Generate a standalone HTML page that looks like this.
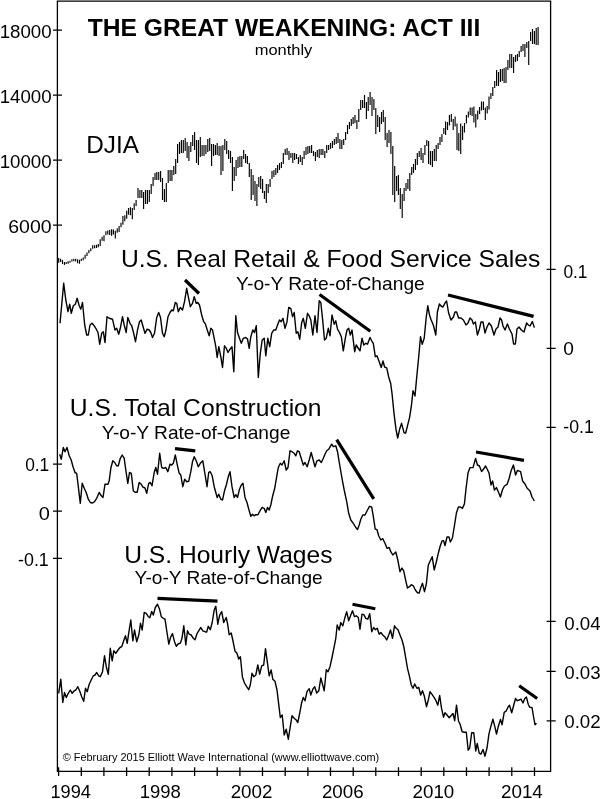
<!DOCTYPE html>
<html><head><meta charset="utf-8"><title>The Great Weakening: Act III</title>
<style>
html,body{margin:0;padding:0;background:#fff;}
body{width:600px;height:799px;overflow:hidden;font-family:"Liberation Sans",sans-serif;color:#000;}
svg{display:block;position:absolute;left:0;top:0;filter:grayscale(1);}
text{white-space:pre;}
</style></head><body>
<svg width="600" height="799" viewBox="0 0 600 799">
<g fill="none" stroke="#000" stroke-width="1.3">
<path d="M57.4 771.3V1.2H550.6V771.3Z"/>
<path d="M53 30.2H62 M53 95.2H62 M53 160.2H62 M53 225.2H62 M53 464.1H62 M53 511.2H62 M53 558.3H62"/>
<path d="M546.6 269.4H555.7 M546.6 348.4H555.7 M546.6 427.4H555.7 M546.6 621.4H555.7 M546.6 671.3H555.7 M546.6 720.9H555.7"/>
<path d="M58.6 767.2V776 M81.3 767.2V776 M103.9 767.2V776 M126.6 767.2V776 M149.2 767.2V776 M171.9 767.2V776 M194.6 767.2V776 M217.2 767.2V776 M239.9 767.2V776 M262.5 767.2V776 M285.2 767.2V776 M307.9 767.2V776 M330.5 767.2V776 M353.2 767.2V776 M375.8 767.2V776 M398.5 767.2V776 M421.2 767.2V776 M443.8 767.2V776 M466.5 767.2V776 M489.1 767.2V776 M511.8 767.2V776 M534.5 767.2V776"/>
</g>
<path d="M58.7 258V262.7 M60.6 258.7V262 M62.5 260V264 M64.4 262V265 M66.2 262V264 M68.1 261.3V263.7 M70 260.7V262.7 M71.9 259.3V261.6 M73.8 258.7V261.3 M75.7 258.7V261.6 M77.6 259.3V263.3 M79.5 259.7V263.7 M81.3 258.7V261 M83.2 257.6V260.3 M85.1 254.7V258.7 M87 252.4V256 M88.9 250V253.3 M90.8 248.3V251.3 M92.7 245.3V248.7 M94.6 245.3V248.3 M96.5 244.7V248 M98.3 244V247.3 M100.2 239.3V246 M102.1 236.7V240.7 M104 235.3V241.3 M105.9 231.3V235.3 M107.8 230.4V234.4 M109.7 230V235 M111.6 229.3V235.7 M113.4 229.6V234.4 M115.3 230.7V238.4 M117.2 228.3V232.7 M119.1 226V232 M121 222.7V227.3 M122.9 216V224.7 M124.8 215.3V221.3 M126.7 210.7V218.7 M128.5 208V214.7 M130.4 207.3V215.3 M132.3 208V219.3 M134.2 203.3V210 M136.1 200V206 M138 188V198 M139.9 190V198 M141.8 190V198 M143.6 192V209 M145.5 190V204 M147.4 190V204 M149.3 190V202 M151.2 184V194 M153.1 177V186 M155 173V180 M156.8 172V180 M158.7 172V180 M160.6 171V182 M162.5 178V200 M164.4 189V202 M166.3 183V202 M168.2 170V183 M170.1 170V181 M171.9 170V181 M173.8 166V175 M175.7 159V174 M177.6 144V163 M179.5 142V154 M181.4 140V153 M183.3 140V153 M185.2 138V151 M187.1 142V158 M188.9 146V161 M190.8 142V152 M192.7 135V146 M194.6 132V150 M196.5 140V163 M198.4 140V165 M200.3 137V157 M202.1 145V156 M204 145V156 M205.9 145V154 M207.8 139V152 M209.7 138V151 M211.6 144V166 M213.5 144V156 M215.4 145V155 M217.2 143V155 M219.1 146V156 M221 146V175 M222.9 145V171 M224.8 139V150 M226.7 141V154 M228.6 150V159 M230.5 151V163 M232.4 157V191 M234.2 167V181 M236.1 160V176 M238 157V168 M239.9 156V167 M241.8 156V167 M243.7 150V159 M245.6 154V163 M247.4 156V164 M249.3 163V177 M251.2 169V200 M253.1 175V195 M255 181V201 M256.9 184V206 M258.8 177V187 M260.7 176V189 M262.6 179V193 M264.4 191V199 M266.3 184V203 M268.2 184V193 M270.1 179V187 M272 171V179 M273.9 170V177 M275.8 168V175 M277.6 165V173 M279.5 163V170 M281.4 162V168 M283.3 153V164 M285.2 149V155 M287.1 148V155 M289 151V160 M290.9 153V158 M292.8 153V163 M294.6 153V160 M296.5 154V159 M298.4 157V164 M300.3 155V162 M302.2 157V165 M304.1 151V159 M306 147V155 M307.9 146V154 M309.7 146V153 M311.6 145V153 M313.5 151V156 M315.4 152V161 M317.3 150V157 M319.2 149V158 M321.1 149V155 M322.9 149V155 M324.8 151V158 M326.7 145V153 M328.6 145V150 M330.5 143V149 M332.4 141V148 M334.3 139V145 M336.2 137V144 M338 133V143 M339.9 139V149 M341.8 140V149 M343.7 139V145 M345.6 132V140 M347.5 125V134 M349.4 122V129 M351.3 119V126 M353.1 117V124 M355 115V123 M356.9 120V129 M358.8 109V122 M360.7 100V110 M362.6 100V108 M364.5 95V108 M366.4 102V119 M368.2 97V111 M370.1 92V105 M372 97V116 M373.9 99V110 M375.8 108V134 M377.7 115V127 M379.6 117V132 M381.5 112V124 M383.3 110V122 M385.2 117V140 M387.1 133V147 M389 130V143 M390.9 132V154 M392.8 146V195 M394.7 166V202 M396.6 176V191 M398.4 175V195 M400.3 188V209 M402.2 194V218 M404.1 188V201 M406 183V191 M407.9 179V189 M409.8 173V191 M411.7 167V175 M413.5 164V173 M415.4 159V170 M417.3 153V165 M419.2 151V157 M421.1 148V160 M423 153V163 M424.9 145V155 M426.8 140V146 M428.6 141V164 M430.5 151V165 M432.4 151V167 M434.3 149V161 M436.2 145V161 M438.1 143V149 M440 137V145 M441.9 134V142 M443.8 128V134 M445.6 121.5V135 M447.5 122V130 M449.4 115V125.5 M451.3 114V122 M453.2 119V130 M455.1 116.5V126.5 M457 123.5V150 M458.8 133V151 M460.7 123.5V154 M462.6 126V140 M464.5 123V132.5 M466.4 115V123.5 M468.3 111.5V117.5 M470.2 107.5V115 M472.1 107.5V116 M473.9 106.5V122.5 M475.8 114V127.5 M477.7 110.5V119.5 M479.6 107V114 M481.5 101.5V110.5 M483.4 101.5V110 M485.3 107.5V120 M487.2 106V113.5 M489 96.5V109.5 M490.9 93V99 M492.8 87V96 M494.7 81V88 M496.6 70V86 M498.5 72V86 M500.4 69V82 M502.3 69V81 M504.1 68V83 M506 67V83 M507.9 60V70 M509.8 54V68 M511.7 54V68 M513.6 57V73 M515.5 55V62 M517.4 54V61 M519.2 51V57 M521.1 46V52 M523 44V51 M524.9 44V57 M526.8 42V48 M528.7 41V65 M530.6 32V41 M532.5 29V44 M534.4 31V44 M536.2 28V45 M538.1 27V45" fill="none" stroke="#000" stroke-width="1.15"/>
<g fill="none" stroke="#000" stroke-width="1.4" stroke-linejoin="round">
<polyline points="60,323.3 63.7,283.3 65.8,300 68,311.7 69.7,304.2 71.3,313.3 73.3,305.8 75.3,304.2 77.2,298.3 79.2,305.8 80.8,309.2 82.5,302.5 84.7,325 86.7,335 88.3,335 90,325 92,323.3 94.2,325.8 96.3,329.2 98,332.5 99.7,344.2 101.7,333.3 103.3,331.7 105,342.5 107,316.7 109.2,318.3 112.5,319.2 115,330 116.7,328.3 118.7,334.2 120.3,328.3 122.5,316.7 124.2,325 126.2,332.5 127.8,317.5 130,323.3 131.7,325.8 133.3,331.7 135.5,341.7 137.5,330 139.5,321.7 141.2,320 143.3,327.5 145,333.3 147.2,329.2 149.2,330 150.8,332.5 152.5,337.5 154.5,333.3 156.7,317.5 158.7,312.5 160.5,317.5 162.5,333.3 164.2,336.7 165.8,330.8 168,316.7 170,312.5 171.7,310 173.3,310.8 175.3,302.5 176.7,303.3 178.3,311.7 180.3,307.5 182.5,310 184.5,301.7 186.7,288.3 188.3,296.7 190.3,306.7 192.5,303.3 194.2,296.7 196.2,303.3 197.8,302.5 199.5,305 201.7,315 203.7,321.7 205.5,324.2 207.5,330.8 209.2,335.8 210.8,328.3 212.5,330 214.2,338.3 215.8,346.7 217.2,357.5 218.8,346.7 220.8,356.7 222.5,367.5 224.5,345.8 226.3,348.3 228,352.5 230,349.2 232,346.7 233.8,371.7 235.8,315.8 237.5,332.5 239.5,338.3 241.3,343.3 243.3,338.3 245.8,337.5 247.5,339 249.2,348.3 250.8,336.7 252.8,330 254.5,332.5 256.3,325.8 258.3,377.5 260.3,353.3 262.2,340 264.2,338.3 265.8,355.8 267.8,338.3 269.7,346.7 271.7,333.3 273.7,330 275.8,330 277.8,324.2 279.5,320 281.2,321.7 283,318.3 285,328.3 287,321.7 288.7,307.5 290.8,308.3 292.5,316.7 294.2,312.5 296.2,333.3 297.8,331.7 299.7,339.2 301.7,322.5 303.3,318.3 305.3,328.3 307.5,313.3 309.2,315.8 310.8,320 312.8,335 315,315.8 317,332.5 319.2,300.8 320.8,302.5 322.5,318.3 324.5,340 326.2,338.3 328.3,328.3 330,335.8 332,315 334.2,324.2 335.8,320.8 337.5,329.2 339.5,332.5 341.4,337 343.3,350.8 345.3,338.3 347,330 348.7,328.3 350.3,335 352,330 354.7,351.7 356.2,345 357.8,347.5 360,350.8 362,338.3 363.8,345 365.8,343.3 367.5,344.2 370,337.5 371.7,340.8 373.3,343.3 375.3,356.7 377,355.8 379.2,361.7 381.2,367.5 383,361 384.6,367 386.7,367.8 388.7,377 390.7,383.5 392,393.3 394,413.3 396,429.3 397.7,438 399.6,429.3 401.6,423.3 404,432.7 405.7,433 407.6,425.3 409.6,417.3 411.3,406.7 413,390.7 415,396 416.7,377.3 418.7,357 420.5,336.7 422.2,344.2 424.2,338.3 426.2,317.5 427.8,305.8 429.5,315 431.2,320 433.3,325 435.8,335 437.4,312 439.4,304 441,306 443,307 445,303 446.6,301 448.6,313 451,320 453.4,317 455,312 456.6,312 458.6,318 461,318 463.4,320 466,325 468,323 470,318 472,320 473.4,324 475.4,322 477.4,335 479.4,329 481,322 483,322 485,333 487,327 489,323 491.4,326 494,335 496,329 498,327 500,318 501.6,320 503,326 505,330 507.4,324 509.4,329 512,334 513.6,344 515.4,344 517,329 519,327 521.4,330 524,332 526.6,323 528.4,325 530,326 532.4,321.6 534.4,327.6"/>
<polyline points="59.7,454.2 61.3,459.2 63.3,447.5 65,451.7 67,447.5 69.2,455.8 71.2,460 73,466.7 75,472.5 76.7,473.3 78.3,486.7 80.3,503.3 82.2,483.3 84.2,488.3 86.2,492.5 88.3,499.2 90.3,502.5 92.5,503 94.5,501.7 96.7,498.3 99.2,492.5 101.3,495.8 103,497.5 105,484.2 108,484.2 109.2,480.8 110.8,468.3 112.8,460.8 114.7,462.5 116.7,465.8 118.3,465.8 120.3,458.3 122.2,455 124.2,458.3 125.8,470 127.8,483.3 129.5,472.5 131.3,473.3 133.3,490.8 135,492.2 137.2,492.2 139.2,482.5 141.2,484.2 142.8,487 145,488 146.7,493.3 148.7,483.3 150.3,482.5 152,485.8 154.2,472.5 155.8,467.5 157.5,474.2 159.7,453.3 161.7,467.5 163.7,468.3 165.8,467.5 167.8,471.7 170,464.2 171.7,465 173.3,463.3 175.3,455 177.5,465.8 179.2,473.3 180.8,475 182.8,486.7 184.7,479.2 186.7,481.7 188.7,481.3 190.8,471.7 192.5,461.7 194.2,456.7 196.2,460.8 198.3,466.7 200.3,463.3 202.8,460.8 205,474.2 207,486.7 208.7,472.5 210.3,471.7 212.2,475.8 214.2,486.7 215.8,492.5 217.2,497.5 218.8,494.2 220.8,499.2 222.5,500 224.5,490.8 226.3,485 228.3,476.7 230,471.7 232,486.7 234.2,497.5 235.8,494.7 237.5,497.5 239.5,489.2 241.3,485 243,483.3 245,497.5 247,502.5 249.2,510.8 250.8,516.3 252.5,514.2 254.2,515.8 255.8,514.7 258,514.7 260,510.8 262,507.5 264.2,508.3 265.8,512.5 267.5,507.5 269.2,510 270.8,505 272.5,496.7 274.7,488.3 276.7,476.7 278.3,467.5 280.3,463.3 282,465 284.2,460.8 286.2,470 288,467.5 290,450.8 292,451.7 294.2,453.3 295.8,455.8 297.5,450.8 299.2,451.7 301.2,458.3 303.3,465 305,462.5 307.2,466.7 309.2,460 311.2,452.5 313,459.2 315,466.7 317,460.8 319.2,460 321.3,462.5 323.3,458.3 325,454.2 326.7,450.8 328.8,449.2 331.7,444.2 333.3,446.7 335.8,445.8 337.5,451.7 339.7,465 342,478.3 344.2,490 346.7,501.7 348.7,513.3 350.8,520 353.3,523.3 355.8,527.5 357.5,529.5 359.2,525 360.8,519.2 362.8,515 365,515 367.5,510 369.5,506.3 371.7,507 373.3,516.3 375.2,529.2 377,529.7 378.7,535.8 380.8,540 382.8,538.7 385,543.3 387,548.3 389.2,547.5 390.8,551.7 392.8,555 395.8,552 397.8,560 400,571.7 402,568 403.7,570.8 405.8,580.8 407.5,588 409.5,586.7 411.3,584.7 413.3,585.8 415.3,590 417.5,592.8 419.2,593 420.8,587.5 422.5,583.3 424.5,591.7 426.3,584.2 428.3,565 430.3,560.8 432.2,556.7 434.2,570 436.2,562.5 438.3,553.3 440.3,545.8 442,541 443.6,540.6 445,545.5 447,537 449,537 450.4,542 452.4,538 454.4,526 456.4,513 458.4,507 460.4,507 462.4,508.4 464.4,504 466,489 468,473 470,467.6 473,467.6 475.6,458.4 477.4,465 479.4,466 481.6,471.6 483.6,469 485.6,466 487.6,470 489,473 491,485 492.6,481 494.4,490 496.4,487.6 498.4,492 500.4,497 502.4,490 504.4,486 507,484.4 509,479 511,471 513.4,465 515.6,475 517.4,470.4 520.6,471.6 522.6,481 525,484 527,488 530,491 532,497 534.4,501"/>
<polyline points="58.7,693.3 60.8,679.2 62.8,702.5 64.5,692.5 66.3,697.5 68.3,693.3 70.3,690 72.2,693.3 74.2,690.8 75.8,690 77.8,686.7 80,691.7 81.7,696.7 83.7,701.3 85.5,688.3 87.2,691.7 89.2,684.2 91.2,680 93.3,675.8 95,675 96.7,672.5 98.7,675.8 100.3,676.7 102.5,671.7 104.5,655.8 106.3,666.7 108.3,674.2 110.3,648.3 112.2,660.8 113.8,650.8 115.8,653.3 118,650 120,647.5 121.7,646.7 123.7,640.8 125.5,635.8 127.2,643.3 129.2,630 130.8,620 132.8,640.8 134.5,630 136.7,641.7 138.8,635 140.5,623.3 142.2,630 144.2,612.5 146.2,613.3 148.3,616.7 149.8,617.8 151.7,611.5 153.3,615 155.3,607.5 157.5,604.2 159.5,609.2 161.3,616.7 163.3,618.3 165,619.2 167,632.5 168.8,644.2 170.5,637.5 172.5,633.7 174.5,641.7 176.3,646.3 178.3,643.7 180.3,643.3 182,638.3 183.8,625.8 185.8,645 187.5,630.8 189.2,634.2 191.2,635 193.3,638.3 195,639.7 197,633.7 198.7,630.8 200.8,627.5 202.8,630.8 205,631.7 206.7,632 208.3,626.3 210.3,629.7 212.2,622.5 214.2,610 215.8,606.3 217.8,624.2 219.7,615 221.7,611.7 223.7,622.5 226.2,617.5 227.5,623.3 229.2,634.7 231.2,633 232.8,640 235,651.2 237,653.3 238.7,659 240.4,656.7 242.4,677 244.5,683 246.7,686.7 248.7,689.7 250.3,685 252,673.3 253.8,676.7 255.8,675 257.8,665 259.7,674.2 261.7,665.8 263.7,665 265.5,648.7 267.5,663.3 269.2,675.8 271.2,670 272.8,679.2 275,681.3 277,690 278.7,704.2 280.3,717.5 282.2,715 284.2,735 286.2,729.2 288.3,739.2 290,728.3 292,715.8 294.2,718.3 296.2,720 297.8,722.5 300,711.7 301.7,702.5 303.3,697.5 305,700.8 307,691.7 309.2,688.7 310.8,695 312.8,689.2 314.7,686.7 316.7,693 318.8,690.8 320.8,678 322.5,684.2 324.2,690.8 326.3,669.7 328,671.7 330,666.7 332,657.5 334.2,646.7 335.8,638.3 337.2,625 339.2,630 340.8,622.5 342.8,625.8 344.7,618.3 346.7,611.7 348.7,620.8 350.5,615.8 352.5,610.8 354.5,616.7 356.3,615.8 358.3,617.5 360,629.2 362,614.2 363.8,614.7 365.8,618.3 367.8,619.2 369.7,613.7 371.7,631.7 373.7,627.5 375.3,629.7 377.2,628.3 379.2,634.2 380.8,632.5 382.8,635 384.7,636.7 386.7,640 388.7,635 390.5,630 392.5,638.3 394.5,625.8 396.2,628.3 398,629.7 400,635 402,640 403.8,646.7 405.5,656.7 407.5,668.3 409.5,676.7 411.3,685 413,688.3 414.7,684 416.9,688.3 418.7,687.3 420.7,695 422.5,690.7 424.3,696 426.5,706.7 428.5,699.2 430,691.7 432.2,694.7 434.2,697.7 436,700.7 437.8,705.2 439.7,695.5 441.5,708.2 443.5,717.2 445,712.7 447,715 449.2,717.7 451,715.7 453,713.5 454.7,720.7 456.5,705.2 458.5,721 460,724 462.2,731.8 464.2,732.2 466.3,732.2 468.2,750.2 469.7,748 471.7,732.7 473.8,732.7 475.7,751 477.2,743.5 479.2,753.2 481,754 483,749.5 485,756.2 487,748 489,733.7 490.7,727 492.9,719.2 494.7,726.2 496.5,734 498.2,726.8 500.5,719.5 502.1,724.7 504.2,712.4 506,711.2 508,707.2 509.5,705.2 511.7,712.7 513.5,706 515.5,698.5 517.3,700.7 519.2,700 521,699.2 523,703 524.8,698.5 526.4,697 528.2,704.2 529.7,707.2 532,707.5 533.5,716.5 535,724.7 536.5,723.2"/>
</g>
<g fill="none" stroke="#000" stroke-width="3.2">
<path d="M185 280L199 293.5"/>
<path d="M319.5 294.5L370.3 331.3"/>
<path d="M448 295L533.6 316.4"/>
<path d="M175 448.7L195.3 450.8"/>
<path d="M336.7 439.7L373.7 498.8"/>
<path d="M476 452L524 460.4"/>
<path d="M157.5 598.3L217.5 601.2"/>
<path d="M352.5 604.2L375.3 608.7"/>
<path d="M519.2 685.7L537.2 698.5"/>
</g>
<g font-family="Liberation Sans, sans-serif" fill="#000">
<text x="87.74" y="35.8" font-size="23.8" font-weight="bold" textLength="392.49" lengthAdjust="spacingAndGlyphs">THE GREAT WEAKENING: ACT III</text>
<text x="254.67" y="55.2" font-size="15.3" textLength="57.69" lengthAdjust="spacingAndGlyphs">monthly</text>
<text x="86.26" y="152.6" font-size="23.8" textLength="52.72" lengthAdjust="spacingAndGlyphs">DJIA</text>
<text x="120.95" y="267" font-size="24" textLength="419.31" lengthAdjust="spacingAndGlyphs">U.S. Real Retail &amp; Food Service Sales</text>
<text x="235.98" y="289.5" font-size="18.4" textLength="188.75" lengthAdjust="spacingAndGlyphs">Y-o-Y Rate-of-Change</text>
<text x="69.8" y="416.4" font-size="24" textLength="251.76" lengthAdjust="spacingAndGlyphs">U.S. Total Construction</text>
<text x="101.88" y="438.6" font-size="18.4" textLength="188.45" lengthAdjust="spacingAndGlyphs">Y-o-Y Rate-of-Change</text>
<text x="124.21" y="562.6" font-size="24" textLength="208.34" lengthAdjust="spacingAndGlyphs">U.S. Hourly Wages</text>
<text x="134.48" y="584.4" font-size="18.4" textLength="188.25" lengthAdjust="spacingAndGlyphs">Y-o-Y Rate-of-Change</text>
<text x="62.65" y="761.4" font-size="10.8" textLength="316.61" lengthAdjust="spacingAndGlyphs">© February 2015 Elliott Wave International (www.elliottwave.com)</text>
<text x="-0.35" y="37.75" font-size="18.1" textLength="52.01" lengthAdjust="spacingAndGlyphs">18000</text>
<text x="-0.35" y="102.75" font-size="18.1" textLength="52.01" lengthAdjust="spacingAndGlyphs">14000</text>
<text x="-0.35" y="167.75" font-size="18.1" textLength="52.01" lengthAdjust="spacingAndGlyphs">10000</text>
<text x="8.22" y="232.75" font-size="18.1" textLength="43.4" lengthAdjust="spacingAndGlyphs">6000</text>
<text x="25.18" y="471.2" font-size="18.1" textLength="24.09" lengthAdjust="spacingAndGlyphs">0.1</text>
<text x="38.77" y="519.5" font-size="18.1" textLength="11.15" lengthAdjust="spacingAndGlyphs">0</text>
<text x="18.06" y="566" font-size="18.1" textLength="30.76" lengthAdjust="spacingAndGlyphs">-0.1</text>
<text x="563.38" y="278.3" font-size="18.1" textLength="24.09" lengthAdjust="spacingAndGlyphs">0.1</text>
<text x="563.21" y="355.2" font-size="18.1" textLength="10.67" lengthAdjust="spacingAndGlyphs">0</text>
<text x="563.27" y="433" font-size="18.1" textLength="30.45" lengthAdjust="spacingAndGlyphs">-0.1</text>
<text x="564.22" y="629.5" font-size="18.1" textLength="36.45" lengthAdjust="spacingAndGlyphs">0.04</text>
<text x="564.22" y="678.6" font-size="18.1" textLength="36.45" lengthAdjust="spacingAndGlyphs">0.03</text>
<text x="564.22" y="727.5" font-size="18.1" textLength="36.45" lengthAdjust="spacingAndGlyphs">0.02</text>
<text x="50.49" y="798.3" font-size="18.1" textLength="40.42" lengthAdjust="spacingAndGlyphs">1994</text>
<text x="139.67" y="798.3" font-size="18.1" textLength="41.11" lengthAdjust="spacingAndGlyphs">1998</text>
<text x="230.67" y="798.3" font-size="18.1" textLength="41.67" lengthAdjust="spacingAndGlyphs">2002</text>
<text x="321.94" y="798.3" font-size="18.1" textLength="41.67" lengthAdjust="spacingAndGlyphs">2006</text>
<text x="412.64" y="798.3" font-size="18.1" textLength="41.67" lengthAdjust="spacingAndGlyphs">2010</text>
<text x="500.96" y="798.3" font-size="18.1" textLength="41.88" lengthAdjust="spacingAndGlyphs">2014</text>
</g>
</svg>
</body></html>
